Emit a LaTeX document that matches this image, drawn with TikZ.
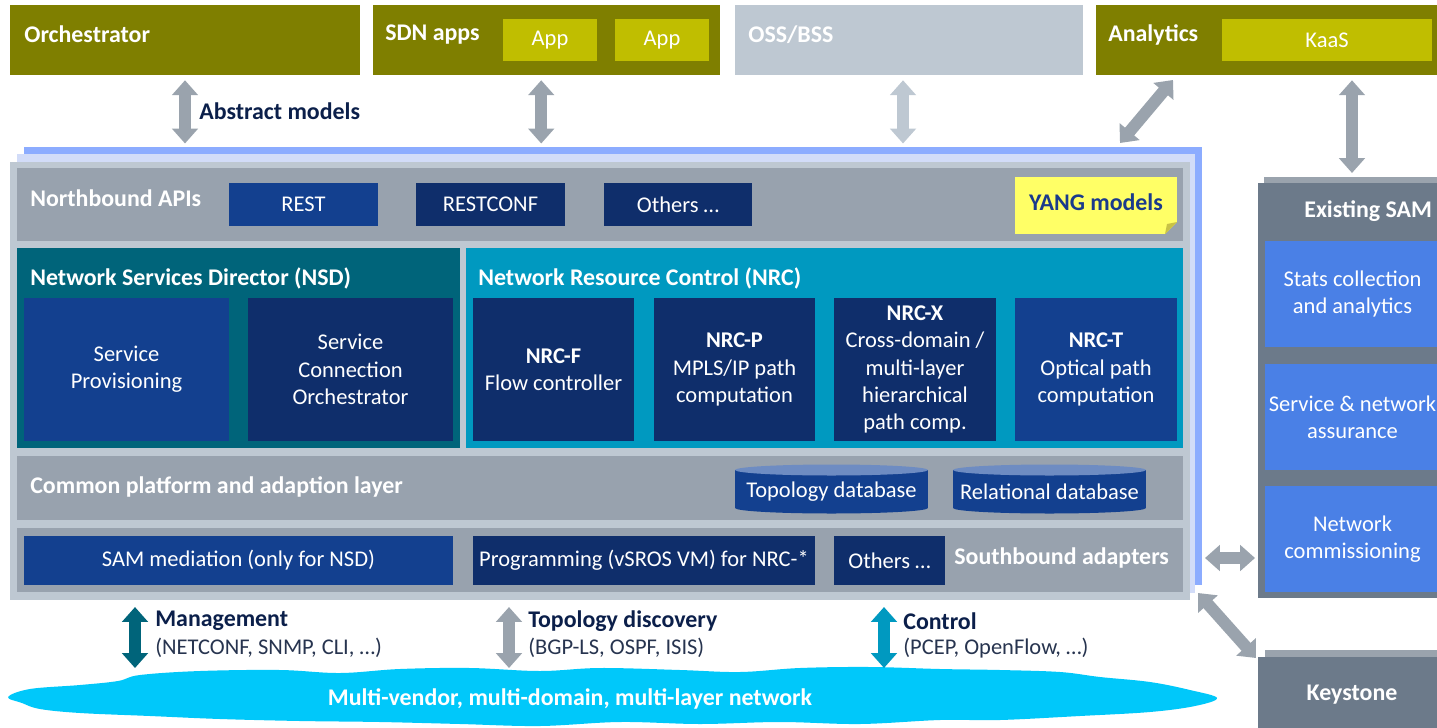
\documentclass[tikz,border=0pt]{standalone}
\usepackage{fontspec}
\setmainfont{Carlito}
\usetikzlibrary{arrows.meta,fit,calc}

\definecolor{olivebox}{HTML}{7F7F00}
\definecolor{appbox}{HTML}{C0BE00}
\definecolor{ossbox}{HTML}{BEC8D2}
\definecolor{arrgray}{HTML}{9AA3AD}
\definecolor{framegray}{HTML}{BEC8D2}
\definecolor{rowgray}{HTML}{98A2AE}
\definecolor{sheetblue}{HTML}{8CACFF}
\definecolor{sheetlight}{HTML}{D2DCF8}
\definecolor{nsdteal}{HTML}{00647A}
\definecolor{nrccyan}{HTML}{0099C0}
\definecolor{navydark}{HTML}{0F2E6B}
\definecolor{navylight}{HTML}{13408F}
\definecolor{yangyellow}{HTML}{FFFF66}
\definecolor{yangfold}{HTML}{C8C246}
\definecolor{yangtext}{HTML}{1A3A8C}
\definecolor{samgray}{HTML}{6C7A8A}
\definecolor{sambox}{HTML}{4A80E6}
\definecolor{cloudcyan}{HTML}{00C8FA}
\definecolor{cylend}{HTML}{6E8CC2}
\definecolor{lblnavy}{HTML}{0B1F4A}
\definecolor{subnavy}{HTML}{27344F}

\begin{document}
\begin{tikzpicture}[x=0.02cm, y=-0.02cm,
    blk/.style={inner sep=0pt, outer sep=0pt},
    ttl/.style={anchor=west, inner sep=0pt, text=white, font=\bfseries\fontsize{13.6}{16}\selectfont},
    txt/.style={text=white, align=center, font=\fontsize{12.8}{15.5}\selectfont},
    boldtxt/.style={align=center, font=\bfseries\fontsize{13.6}{16}\selectfont},
    lbl/.style={anchor=west, inner sep=0pt, text=lblnavy, font=\bfseries\fontsize{13.6}{16}\selectfont},
    sub/.style={anchor=west, inner sep=0pt, text=subnavy, font=\fontsize{12.8}{15.5}\selectfont},
    fat/.style={draw=#1, line width=6.8pt, {Triangle[length=8.5pt,width=14.5pt]}-{Triangle[length=8.5pt,width=14.5pt]}},
    fat/.default=arrgray]
    \useasboundingbox (0,0) rectangle (1437,727);

    % top row
    \node[blk, fill=olivebox, fit={(10,5) (360,75)}] (orch) {};
    \node[ttl] (orch-t) at (24,34) {Orchestrator};
    \node[blk, fill=olivebox, fit={(373,5) (720,75)}] (sdn) {};
    \node[ttl] (sdn-t) at (385,35) {SDN apps};
    \node[blk, fill=appbox, fit={(503,19) (597,61)}, label={[txt]center:App}] (app1) {};
    \node[blk, fill=appbox, fit={(615,19) (709,61)}, label={[txt]center:App}] (app2) {};
    \node[blk, fill=ossbox, fit={(735,5) (1083,75)}] (oss) {};
    \node[ttl] (oss-t) at (748,35) {OSS/BSS};
    \node[blk, fill=olivebox, fit={(1096,5) (1446,75)}] (ana) {};
    \node[ttl] (ana-t) at (1108,35) {Analytics};
    \node[blk, fill=appbox, fit={(1222,19) (1432,61)}, label={[txt]center:KaaS}] (kaas) {};

    % controller frame, three sheets
    \node[blk, fill=sheetblue, fit={(24,147) (1202,585)}] (frameback) {};
    \node[blk, fill=sheetlight, fit={(17,154) (1195,593)}] (framemid) {};
    \node[blk, fill=framegray, fit={(10,162) (1190,600)}] (ctrl) {};

    % northbound
    \node[blk, fill=rowgray, fit={(17,168) (1183,241)}] (nbi) {};
    \node[ttl] (nbi-t) at (30,198) {Northbound APIs};
    \node[blk, fill=navylight, fit={(229,183) (378,226)}, label={[txt]center:REST}] (rest) {};
    \node[blk, fill=navydark, fit={(416,183) (565,226)}, label={[txt]center:RESTCONF}] (restconf) {};
    \node[blk, fill=navydark, fit={(604,183) (752,226)}, label={[txt]center:Others …}] (othersn) {};
    \node[blk, fill=yangyellow, fit={(1015,177) (1177,234)},
          label={[boldtxt, text=yangtext, yshift=2pt]center:YANG models}] (yang) {};
    \fill[rowgray] (1165,234) -- (1177,234) -- (1177,222) -- cycle;
    \fill[yangfold] (1165,234) -- (1177,222) -- (1167,224) -- cycle;

    % NSD
    \node[blk, fill=nsdteal, fit={(17,248) (460,448)}] (nsd) {};
    \node[ttl] (nsd-t) at (30,278) {Network Services Director (NSD)};
    \node[blk, fill=navylight, fit={(24,298) (229,441)}, label={[txt]center:Service\\Provisioning}] (sprov) {};
    \node[blk, fill=navydark, fit={(248,298) (453,441)}, label={[txt]center:Service\\Connection\\Orchestrator}] (sco) {};

    % NRC
    \node[blk, fill=nrccyan, fit={(466,248) (1183,448)}] (nrc) {};
    \node[ttl] (nrc-t) at (478,278) {Network Resource Control (NRC)};
    \node[blk, fill=navydark, fit={(473,298) (634,441)},
          label={[txt]center:{\bfseries NRC-F}\\Flow controller}] (nrcf) {};
    \node[blk, fill=navydark, fit={(654,298) (815,441)},
          label={[txt]center:{\bfseries NRC-P}\\MPLS/IP path\\computation}] (nrcp) {};
    \node[blk, fill=navydark, fit={(834,298) (996,441)},
          label={[txt]center:{\bfseries NRC-X}\\Cross-domain /\\multi-layer\\hierarchical\\path comp.}] (nrcx) {};
    \node[blk, fill=navylight, fit={(1015,298) (1177,441)},
          label={[txt]center:{\bfseries NRC-T}\\Optical path\\computation}] (nrct) {};

    % common platform
    \node[blk, fill=rowgray, fit={(17,456) (1183,520)}] (cpl) {};
    \node[ttl] (cpl-t) at (30,487) {Common platform and adaption layer};
    \fill[navylight] (735,470) rectangle (928,508);
    \fill[navylight] (831.5,508) ellipse (1.93cm and 0.11cm);
    \fill[cylend] (831.5,470) ellipse (1.93cm and 0.11cm);
    \node[txt] (topodb) at (831.5,492) {Topology database};
    \fill[navylight] (953,470) rectangle (1146,508);
    \fill[navylight] (1049.5,508) ellipse (1.93cm and 0.11cm);
    \fill[cylend] (1049.5,470) ellipse (1.93cm and 0.11cm);
    \node[txt] (reldb) at (1049.5,492) {Relational database};

    % southbound
    \node[blk, fill=rowgray, fit={(17,528) (1183,592)}] (sba) {};
    \node[blk, fill=navylight, fit={(24,536) (453,585)}, label={[txt]center:SAM mediation (only for NSD)}] (sammed) {};
    \node[blk, fill=navydark, fit={(473,536) (815,585)}, label={[txt]center:Programming (vSROS VM) for NRC-*}] (prog) {};
    \node[blk, fill=navydark, fit={(834,536) (945,585)}, label={[txt]center:Others …}] (otherss) {};
    \node[ttl] (sba-t) at (954,558) {Southbound adapters};

    % existing SAM
    \fill[arrgray] (1264,177) rectangle (1446,190);
    \node[blk, fill=samgray, fit={(1258,183) (1446,598)}] (esam) {};
    \node[ttl] (esam-t) at (1304,211) {Existing SAM};
    \node[blk, fill=sambox, fit={(1265,241) (1440,347)}, label={[txt]center:Stats collection\\and analytics}] (stats) {};
    \node[blk, fill=sambox, fit={(1265,364) (1440,470)}, label={[txt]center:Service \& network\\assurance}] (assur) {};
    \node[blk, fill=sambox, fit={(1265,486) (1440,592)}, label={[txt]center:Network\\commissioning}] (comm) {};

    % keystone
    \fill[arrgray] (1265,650) rectangle (1446,662);
    \node[blk, fill=samgray, fit={(1258,657) (1446,735)},
          label={[boldtxt, text=white, yshift=1pt]center:Keystone}] (key) {};

    % network cloud
    \fill[cloudcyan] plot[smooth cycle, tension=0.6] coordinates {
        (8,697) (30,689) (80,685) (118,681) (140,675) (200,671) (280,670) (340,673)
        (400,669) (470,668) (540,671) (600,668) (680,670) (740,672) (800,668)
        (870,667) (940,669) (1000,670) (1060,672) (1100,677) (1150,682) (1190,690)
        (1217,698) (1195,706) (1150,712) (1080,716) (1000,720) (940,720) (860,724)
        (780,722) (700,724) (620,722) (540,726) (460,724) (380,722) (300,721)
        (220,719) (150,716) (80,713) (40,709) (22,703)};
    \node[boldtxt, text=white] (net) at (570,699) {Multi-vendor, multi-domain, multi-layer network};

    % arrows to the top
    \draw[fat, shorten <=3pt, shorten >=2pt] (orch.south) -- (orch.south |- frameback.north);
    \node[lbl] (abs-t) at (199,111) {Abstract models};
    \draw[fat, shorten <=3pt, shorten >=2pt] ([xshift=-3pt]sdn.south) -- ([xshift=-3pt]sdn.south |- frameback.north);
    \draw[fat=ossbox, shorten <=3pt, shorten >=2pt] ([xshift=-3.4pt]oss.south) -- ([xshift=-3.4pt]oss.south |- frameback.north);
    \draw[fat] ($(ana.south west)+(77,5)$) -- ($(frameback.north east)+(-82,-4)$);
    \draw[fat, shorten <=3pt, shorten >=5.7pt] (esam.north |- ana.south) -- (esam.north);

    % arrows to the right
    \draw[fat, shorten <=1.7pt, shorten >=1.7pt] (frameback.east |- sba-t.west) -- (esam.west |- sba-t.west);
    \draw[fat] ($(frameback.south east)+(-4,8)$) -- ($(key.north west)+(-2,1)$);

    % arrows to the network
    \coordinate (mgin) at (135,668);
    \coordinate (topoin) at (509,668);
    \coordinate (ctlin) at (884,668);
    \draw[fat=nsdteal, shorten <=4pt] (ctrl.south -| mgin) -- (mgin);
    \draw[fat, shorten <=4pt] (ctrl.south -| topoin) -- (topoin);
    \draw[fat=nrccyan, shorten <=4pt] (ctrl.south -| ctlin) -- (ctlin);
    \node[lbl] (mgmt-t) at (155,621) {Management};
    \node[sub] (mgmt-s) at (155,648) {(NETCONF, SNMP, CLI, …)};
    \node[lbl] (topo-t) at (528,621) {Topology discovery};
    \node[sub] (topo-s) at (528,648) {(BGP-LS, OSPF, ISIS)};
    \node[lbl] (ctl-t) at (903,621) {Control};
    \node[sub] (ctl-s) at (903,648) {(PCEP, OpenFlow, …)};
\end{tikzpicture}
\end{document}
